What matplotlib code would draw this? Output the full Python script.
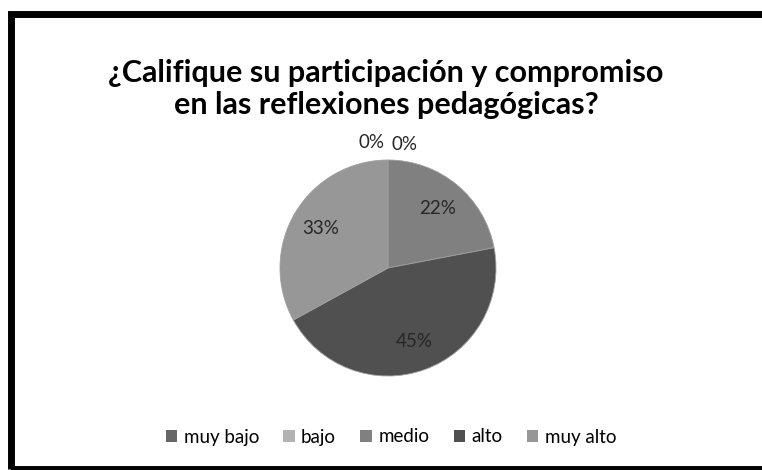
import numpy as np
import matplotlib
matplotlib.use("Agg")
import matplotlib.pyplot as plt
from matplotlib.patches import Rectangle, Patch

categories = ["muy bajo", "bajo", "medio", "alto", "muy alto"]
values = [0, 0, 22, 45, 33]
colors = ["#666666", "#b2b2b2", "#808080", "#505050", "#979797"]
title = "¿Califique su participación y compromiso\nen las reflexiones pedagógicas?"

plt.rcParams["font.family"] = ["Lato", "DejaVu Sans"]

W, H = 762, 470
fig = plt.figure(figsize=(W / 100, H / 100), dpi=100)

# thick black frame (right side runs off the image)
fig.patches.append(Rectangle((10.5 / W, 1 - 469 / H), 800 / W, (469 - 14) / H,
                             transform=fig.transFigure, fill=False,
                             edgecolor="black", linewidth=5.0))

fig.text(386 / W, 1 - 89 / H, title, ha="center", va="center",
         fontsize=22, fontweight="bold", linespacing=1.16, color="#000000")

cx, cy, r = 388, 470 - 268, 108
ax = fig.add_axes([(cx - r) / W, (cy - r) / H, 2 * r / W, 2 * r / H])
wedges, _ = ax.pie(values, colors=colors, startangle=90, counterclock=False,
                   wedgeprops=dict(linewidth=0.6, edgecolor="#a0a0a0"))
ax.set_xlim(-1, 1)
ax.set_ylim(-1, 1)
ax.set_aspect("equal")
ax.axis("off")

zero_offsets = [-0.15, 0.15]
zi = 0
for w, v in zip(wedges, values):
    mid = np.deg2rad((w.theta1 + w.theta2) / 2)
    if v == 0:
        x, y = zero_offsets[zi], 1.16 - 0.02 * zi
        zi += 1
    else:
        x, y = 0.72 * np.cos(mid), 0.72 * np.sin(mid)
    ax.text(x, y, f"{v}%", ha="center", va="center", fontsize=13.5,
            color="#262626")

handles = [Patch(facecolor=c, edgecolor="none") for c in colors]
fig.legend(handles, categories, loc="center", bbox_to_anchor=(391 / W, 1 - 437 / H),
           ncol=5, frameon=False, fontsize=13.5, handlelength=0.6, handleheight=0.6,
           handletextpad=0.35, columnspacing=1.3)

fig.savefig("out.png", dpi=100, facecolor="white")
